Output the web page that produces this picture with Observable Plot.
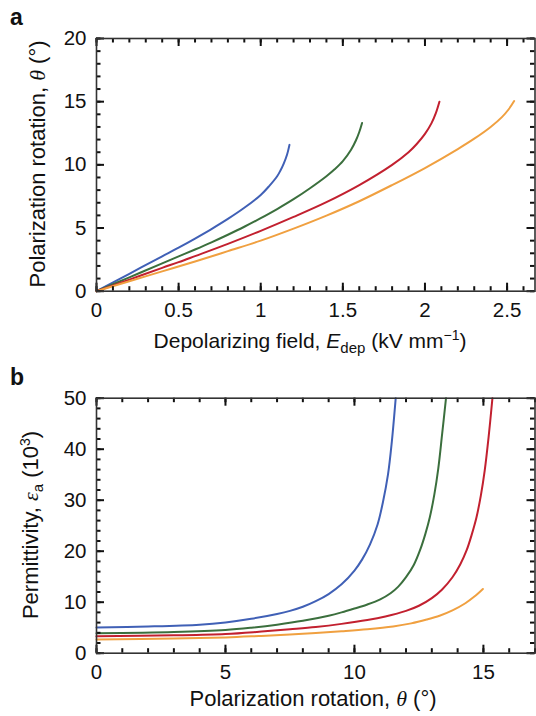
<!DOCTYPE html>
<html><head><meta charset="utf-8">
<script src="https://cdn.jsdelivr.net/npm/d3@7"></script>
<script src="https://cdn.jsdelivr.net/npm/@observablehq/plot@0.6"></script>
<style>
body{margin:0;background:#fff;}
#fig{position:relative;width:536px;height:716px;font-family:"Liberation Sans",Arial,Helvetica,sans-serif;}
#fig svg{position:absolute;left:0;overflow:visible;}
</style></head><body><div id="fig"></div>
<script>
// ---- series names & colours ----
const seriesNames = ["s1", "s2", "s3", "s4"];
const seriesColors = ["#4060b6", "#3b6f3d", "#c2202f", "#f0a040"];

// ---- panel a: depolarizing field (kV/mm) vs polarization rotation (deg) ----
const aBlue = [[0,0],[0.2,1.38],[0.4,2.76],[0.5,3.45],[0.6,4.17],[0.7,4.92],[0.8,5.72],[0.9,6.6],[1.0,7.62],[1.05,8.3],[1.1,9.1],[1.12,9.55],[1.14,10.1],[1.16,10.8],[1.175,11.58]];
const aGreen = [[0,0],[0.2,1.1],[0.4,2.2],[0.5,2.75],[0.6,3.3],[0.7,3.87],[0.8,4.47],[0.9,5.1],[1.0,5.78],[1.1,6.5],[1.2,7.28],[1.3,8.15],[1.4,9.1],[1.45,9.65],[1.5,10.3],[1.55,11.2],[1.58,11.95],[1.6,12.6],[1.617,13.32]];
const aRed = [[0,0],[0.2,0.92],[0.4,1.85],[0.5,2.3],[0.6,2.78],[0.8,3.75],[1.0,4.78],[1.2,5.88],[1.4,7.05],[1.6,8.4],[1.8,10.0],[1.9,11.0],[1.95,11.65],[2.0,12.45],[2.04,13.3],[2.065,14.05],[2.088,15.0]];
const aOrange = [[0,0],[0.2,0.79],[0.4,1.57],[0.6,2.35],[0.8,3.17],[1.0,4.0],[1.2,4.95],[1.4,5.98],[1.6,7.12],[1.8,8.4],[2.0,9.75],[2.2,11.25],[2.3,12.07],[2.4,13.0],[2.47,13.8],[2.51,14.4],[2.543,15.05]];
const aXTicks = [0, 0.5, 1, 1.5, 2, 2.5];
const aYTicks = [0, 5, 10, 15, 20];

// ---- panel b: polarization rotation (deg) vs permittivity (10^3) ----
const bBlue = [[0,5.06],[2,5.25],[4,5.6],[5,6.04],[6,6.75],[7,7.7],[7.5,8.3],[8,9.1],[8.5,10.2],[9,11.6],[9.5,13.5],[10,16.2],[10.3,18.4],[10.6,21.3],[10.9,25.3],[11.1,29.5],[11.3,35.0],[11.45,41.5],[11.6,50]];
const bGreen = [[0,3.9],[3,4.15],[5,4.55],[6,5.0],[7,5.6],[8,6.35],[9,7.35],[9.5,8.0],[10,8.75],[10.5,9.55],[11,10.55],[11.4,11.75],[11.7,13.05],[12,14.9],[12.3,17.3],[12.55,20.3],[12.75,23.4],[12.92,26.6],[13.1,31.2],[13.25,36.2],[13.4,43],[13.55,50]];
const bRed = [[0,3.3],[3,3.5],[5,3.76],[6.3,4.2],[7.5,4.7],[8.5,5.15],[9.5,5.75],[10.5,6.5],[11.2,7.2],[12,8.3],[12.5,9.3],[13,10.8],[13.4,12.5],[13.8,14.9],[14.1,17.4],[14.35,20.2],[14.55,23.3],[14.73,26.6],[14.9,30.9],[15.05,35.8],[15.2,42.3],[15.35,50]];
const bOrange = [[0,2.7],[3,2.88],[5,3.1],[6.3,3.37],[7.5,3.65],[8.5,3.95],[9.5,4.3],[10.5,4.7],[11.5,5.25],[12.2,5.85],[12.8,6.6],[13.3,7.35],[13.8,8.4],[14.3,9.8],[14.65,11.1],[14.98,12.6]];
const bXTicks = [0, 5, 10, 15];
const bYTicks = [0, 10, 20, 30, 40, 50];

function toRows(list) {
  return list.flatMap((arr, i) => arr.map(([x, y]) => ({s: seriesNames[i], x, y})));
}
const dataA = toRows([aBlue, aGreen, aRed, aOrange]);
const dataB = toRows([bBlue, bGreen, bRed, bOrange]);

const FONT = '"Liberation Sans",Arial,Helvetica,sans-serif';
const SERIF = '"Liberation Serif","DejaVu Serif",serif';
const TICK_FS = 20.5, TITLE_FS = 22;
const axisCol = "#111";
const W = 536, ML = 96, MR = 1.5;
const MAJ = 8, MIN = 4.5;

function framed(opts) {
  const {data, xDomain, yDomain, xMajor, xMinor, yMajor, yMinor, height, marginTop, marginBottom} = opts;
  const fmt = d => String(d);
  const tickStyle = {label: null, stroke: axisCol, strokeWidth: 2};
  return Plot.plot({
    width: W, height, marginTop, marginBottom, marginLeft: ML, marginRight: MR,
    style: {fontFamily: FONT, fontSize: TICK_FS + "px", color: "#111", background: "transparent", overflow: "visible"},
    x: {domain: xDomain},
    y: {domain: yDomain},
    color: {domain: seriesNames, range: seriesColors},
    marks: [
      Plot.line(data, {x: "x", y: "y", z: "s", stroke: "s", strokeWidth: 2, curve: "catmull-rom"}),
      Plot.tickX(xMinor, {x: d => d, ...tickStyle, insetTop: height - marginTop - marginBottom - MIN}),
      Plot.tickX(xMajor, {x: d => d, ...tickStyle, insetTop: height - marginTop - marginBottom - MAJ}),
      Plot.tickX(xMinor, {x: d => d, ...tickStyle, insetBottom: height - marginTop - marginBottom - MIN}),
      Plot.tickX(xMajor, {x: d => d, ...tickStyle, insetBottom: height - marginTop - marginBottom - MAJ}),
      Plot.tickY(yMinor, {y: d => d, ...tickStyle, insetRight: W - ML - MR - MIN}),
      Plot.tickY(yMajor, {y: d => d, ...tickStyle, insetRight: W - ML - MR - MAJ}),
      Plot.tickY(yMinor, {y: d => d, ...tickStyle, insetLeft: W - ML - MR - MIN}),
      Plot.tickY(yMajor, {y: d => d, ...tickStyle, insetLeft: W - ML - MR - MAJ}),
      Plot.axisX(xMajor, {anchor: "bottom", tickSize: 0, tickPadding: 11, tickFormat: fmt, label: null, fill: "#111"}),
      Plot.axisY(yMajor, {anchor: "left", tickSize: 0, tickPadding: 10, tickFormat: fmt, label: null, fill: "#111"}),
      Plot.frame({stroke: "#333", strokeWidth: 1.6})
    ]
  });
}

const fig = document.getElementById("fig");

const svgA = framed({
  data: dataA, xDomain: [0, 2.67], yDomain: [0, 20],
  xMajor: aXTicks, xMinor: d3.range(0, 2.67, 0.1).map(v => +v.toFixed(2)),
  yMajor: aYTicks, yMinor: d3.range(0, 21, 1),
  height: 360, marginTop: 38, marginBottom: 69.3
});
svgA.style.top = "0px";
fig.appendChild(svgA);

const svgB = framed({
  data: dataB, xDomain: [0, 17], yDomain: [0, 50],
  xMajor: bXTicks, xMinor: d3.range(0, 18, 1),
  yMajor: bYTicks, yMinor: d3.range(0, 51, 2),
  height: 356, marginTop: 37.7, marginBottom: 63.3
});
svgB.style.top = "360px";
fig.appendChild(svgB);

// ---- titles & panel letters (real SVG text) ----
function addText(svg, x, y, rotate, parts, anchor = "middle", fs = TITLE_FS) {
  const t = d3.select(svg).append("text")
    .attr("transform", `translate(${x},${y})` + (rotate ? ` rotate(${rotate})` : ""))
    .attr("text-anchor", anchor)
    .attr("font-family", FONT)
    .attr("font-size", fs)
    .attr("fill", "#111");
  for (const p of parts) {
    const s = t.append("tspan").text(p.t);
    if (p.dy) s.attr("dy", p.dy);
    if (p.fs) s.attr("font-size", p.fs);
    if (p.it) s.attr("font-style", "italic");
    if (p.serif) s.attr("font-family", SERIF);
  }
  return t;
}

// panel letters
addText(svgA, 10, 25, 0, [{t: "a"}], "start", 23).attr("font-weight", "bold");
addText(svgB, 10, 25, 0, [{t: "b"}], "start", 23).attr("font-weight", "bold");

// panel a axis titles
addText(svgA, 310, 348, 0, [
  {t: "Depolarizing field, "}, {t: "E", it: true},
  {t: "dep", dy: 5, fs: 15}, {t: " (kV mm", dy: -5},
  {t: "\u22121", dy: -8, fs: 14}, {t: ")", dy: 8}
], "middle", 21);
addText(svgA, 45, 164, -90, [
  {t: "Polarization rotation, "}, {t: "\u03B8", it: true, serif: true}, {t: " (\u00B0)"}
]);

// panel b axis titles
addText(svgB, 313, 346, 0, [
  {t: "Polarization rotation, "}, {t: "\u03B8", it: true, serif: true}, {t: " (\u00B0)"}
]);
addText(svgB, 37.5, 165, -90, [
  {t: "Permittivity, "}, {t: "\u03B5", it: true, serif: true},
  {t: "a", dy: 5, fs: 15}, {t: " (10", dy: -5},
  {t: "3", dy: -8, fs: 14}, {t: ")", dy: 8}
]);
</script></body></html>
